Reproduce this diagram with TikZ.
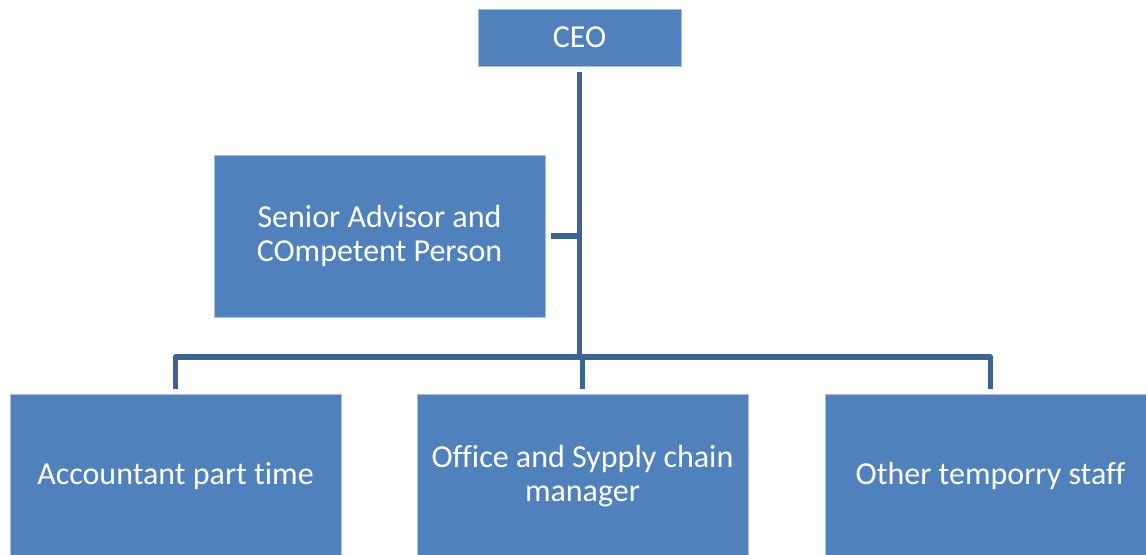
\documentclass[tikz,border=0pt]{standalone}
\usepackage{fontspec}
\setmainfont[Ligatures=NoCommon]{Carlito}
\definecolor{boxblue}{HTML}{4F81BD}
\definecolor{boxedge}{HTML}{A7BEDC}
\definecolor{linkblue}{HTML}{3C6595}
\begin{document}
\begin{tikzpicture}[x=0.75pt,y=-0.75pt,
  unit/.style={draw=boxedge,line width=0.6pt,fill=boxblue,text=white,
    align=center,inner sep=0pt,font=\fontsize{24}{25.5}\selectfont},
  link/.style={draw=linkblue,line width=4.2pt,line join=round}]
  \useasboundingbox (0,0) rectangle (1146,555);
  \clip (0,0) rectangle (1146,555);

  % boxes
  \node[unit,minimum width=152.25pt,minimum height=42.75pt] (ceo) at (579.5,37.5) {CEO};
  \node[unit,minimum width=248.25pt,minimum height=121.5pt] (sen) at (379.5,236)
    {Senior Advisor and\\COmpetent Person};
  \node[unit,minimum width=248.25pt,minimum height=123pt] (acc) at (175.5,476)
    {Accountant part time};
  \node[unit,minimum width=248.25pt,minimum height=123pt] (off) at (582.5,476)
    {Office and Sypply chain\\manager};
  \node[unit,minimum width=248.25pt,minimum height=123pt] (oth) at (990.5,476)
    {Other temporry staff};

  % level of the horizontal branch
  \coordinate (bar) at (579.5,357);

  % connectors
  \draw[link] ([yshift=-4.5pt]ceo.south) -- (ceo.south |- bar);
  \draw[link] ([xshift=4.5pt]sen.east) -- (sen.east -| ceo.south);
  \draw[link] ([yshift=3.75pt]acc.north) -- (acc.north |- bar)
    -- (oth.north |- bar) -- ([yshift=3.75pt]oth.north);
  \draw[link] (off.north |- bar) -- ([yshift=3.75pt]off.north);
\end{tikzpicture}
\end{document}
